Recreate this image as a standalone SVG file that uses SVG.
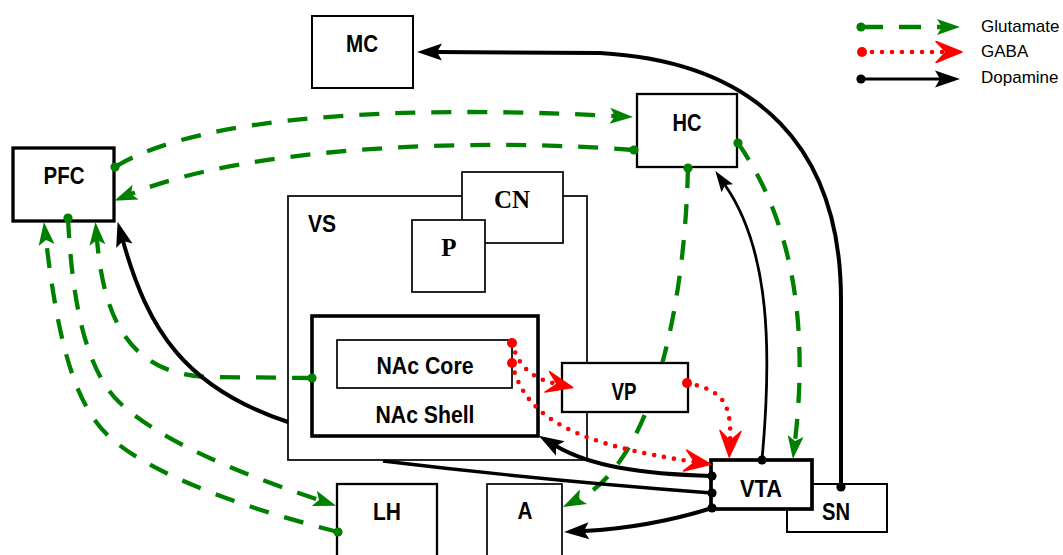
<svg xmlns="http://www.w3.org/2000/svg" width="1063" height="555" viewBox="0 0 1063 555">
<style>
.box{fill:#fff;stroke:#000}
.lbl{font-family:"Liberation Sans Narrow","Liberation Sans",Arial,sans-serif;font-weight:bold;font-size:24px;text-anchor:middle;fill:#000}
.ser{font-family:"Liberation Serif","Times New Roman",serif;font-weight:bold;font-size:25px;text-anchor:middle;fill:#000}
.leg{font-family:"Liberation Sans",Arial,sans-serif;font-size:17px;fill:#000}
.glu{fill:none;stroke:#008000;stroke-width:4.3;stroke-dasharray:20 16;marker-start:url(#dotG);marker-end:url(#arrG)}
.gaba{fill:none;stroke:#ff0000;stroke-width:4.6;stroke-linecap:round;stroke-dasharray:0 10;marker-start:url(#dotR);marker-end:url(#arrR)}
.da{fill:none;stroke:#000;stroke-width:4;marker-start:url(#dotK);marker-end:url(#arrK)}
</style>
<defs>
<marker id="arrG" markerUnits="userSpaceOnUse" orient="auto" refX="0" refY="0" markerWidth="40" markerHeight="40" overflow="visible"><path d="M -5 -8 L 18 0 L -5 8 L 0 0 Z" fill="#008000"/></marker>
<marker id="arrR" markerUnits="userSpaceOnUse" orient="auto" refX="0" refY="0" markerWidth="40" markerHeight="40" overflow="visible"><path d="M -10 -10.5 L 16 0 L -10 10.5 L 0 0 Z" fill="#ff0000" stroke="#ff0000" stroke-width="1.5" stroke-linejoin="round"/></marker>
<marker id="arrK" markerUnits="userSpaceOnUse" orient="auto" refX="0" refY="0" markerWidth="40" markerHeight="40" overflow="visible"><path d="M -5 -8.5 L 20 0 L -5 8.5 L 0 0 Z" fill="#000"/></marker>
<marker id="arrKs" markerUnits="userSpaceOnUse" orient="auto" refX="0" refY="0" markerWidth="40" markerHeight="40" overflow="visible"><path d="M -4 -7 L 17 0 L -4 7 L 0 0 Z" fill="#000"/></marker>
<marker id="dotG" markerUnits="userSpaceOnUse" refX="0" refY="0" markerWidth="20" markerHeight="20" overflow="visible"><circle r="4.6" fill="#008000"/></marker>
<marker id="dotR" markerUnits="userSpaceOnUse" refX="0" refY="0" markerWidth="20" markerHeight="20" overflow="visible"><circle r="5" fill="#ff0000"/></marker>
<marker id="dotK" markerUnits="userSpaceOnUse" refX="0" refY="0" markerWidth="20" markerHeight="20" overflow="visible"><circle r="4.6" fill="#000"/></marker>
<mask id="vpHole" maskUnits="userSpaceOnUse" x="0" y="0" width="1063" height="555">
<rect x="0" y="0" width="1063" height="555" fill="#fff"/>
<rect x="561" y="362" width="128" height="51" fill="#000"/>
</mask>
</defs>
<rect width="1063" height="555" fill="#fff"/>

<g id="VS"><rect class="box" x="288" y="196" width="299" height="264" stroke-width="1.7"/><text class="lbl" x="322" y="232" textLength="28" lengthAdjust="spacingAndGlyphs">VS</text></g>
<g id="CN"><rect class="box" x="462" y="172" width="101" height="71" stroke-width="1.7"/><text class="ser" x="512" y="208">CN</text></g>
<g id="P"><rect class="box" x="412" y="220" width="73" height="72" stroke-width="1.7"/><text class="ser" x="449" y="256">P</text></g>
<g id="NAcShell"><rect class="box" x="312" y="316" width="226" height="120" stroke-width="3.6"/><text class="lbl" x="425" y="423" textLength="99" lengthAdjust="spacingAndGlyphs">NAc Shell</text></g>
<g id="NAcCore"><rect class="box" x="337" y="340" width="175" height="48" stroke-width="1.7"/><text class="lbl" x="425" y="374" textLength="97" lengthAdjust="spacingAndGlyphs">NAc Core</text></g>
<g id="VP"><rect class="box" x="562" y="363" width="126" height="49" stroke-width="2.3"/><text class="lbl" x="624" y="400" textLength="25" lengthAdjust="spacingAndGlyphs">VP</text></g>
<g id="SN"><rect class="box" x="787" y="484" width="100" height="48" stroke-width="2"/><text class="lbl" x="836" y="520" textLength="28" lengthAdjust="spacingAndGlyphs">SN</text></g>
<g id="VTA"><rect class="box" x="711" y="460" width="101" height="49" stroke-width="3.7"/><text class="lbl" x="761" y="497" textLength="42" lengthAdjust="spacingAndGlyphs">VTA</text></g>
<g id="MC"><rect class="box" x="312" y="16" width="101" height="72" stroke-width="2"/><text class="lbl" x="362" y="52" textLength="32" lengthAdjust="spacingAndGlyphs">MC</text></g>
<g id="HC"><rect class="box" x="637" y="94" width="100" height="73" stroke-width="2.3"/><text class="lbl" x="687" y="131" textLength="29" lengthAdjust="spacingAndGlyphs">HC</text></g>
<g id="PFC"><rect class="box" x="13" y="148" width="101" height="73" stroke-width="3.3"/><text class="lbl" x="64" y="184" textLength="41" lengthAdjust="spacingAndGlyphs">PFC</text></g>
<g id="LH"><rect class="box" x="337" y="484" width="100" height="90" stroke-width="2.3"/><text class="lbl" x="387" y="520" textLength="28" lengthAdjust="spacingAndGlyphs">LH</text></g>
<g id="A"><rect class="box" x="487" y="484" width="75" height="90" stroke-width="1.7"/><text class="lbl" x="525" y="519" textLength="15" lengthAdjust="spacingAndGlyphs">A</text></g>

<g id="connectors">
<path class="glu" d="M 115 167 C 200 115, 400 105, 615 116"/>
<path class="glu" d="M 634 150 C 480 138, 250 145, 131 194"/>
<path class="glu" mask="url(#vpHole)" d="M 688 168 C 684 330, 645 466, 579 499"/>
<path class="glu" d="M 738 143 C 795 225, 808 330, 795 441"/>
<path class="glu" d="M 312 378 L 210 377 C 130 375, 104 320, 97 240"/>
<path class="glu" d="M 68 218 C 72 300, 85 370, 120 403 C 160 440, 230 470, 319 500"/>
<path class="glu" d="M 338 532 C 260 512, 160 480, 113 440 C 80 412, 60 360, 46 240"/>

<path class="da" style="stroke-width:2.8;marker-end:url(#arrKs)" d="M 762 460 C 772 350, 770 250, 725 185"/>
<path class="da" d="M 841 487 L 841 300 C 841 150, 760 62, 600 53 L 437 52"/>
<path class="da" d="M 712 476 C 640 474, 590 466, 556 446"/>
<path class="da" style="stroke-width:3.4;marker-end:none" d="M 712 493 Q 540 480, 383 461"/>
<path class="da" d="M 712 508 C 680 518, 640 528, 584 531"/>
<path class="da" style="marker-start:none" d="M 288 422 C 185 388, 148 330, 123 241"/>

<path class="gaba" d="M 512 343 C 518 365, 530 378, 557 384"/>
<path class="gaba" d="M 512 363 C 525 420, 580 445, 695 462"/>
<path class="gaba" d="M 687 383 C 720 390, 732 400, 730 441"/>
</g>

<g id="legend">
<path class="glu" style="stroke-dasharray:22 16" d="M 861 27 L 942 27"/>
<path class="gaba" d="M 862 52 L 946 52"/>
<path class="da" style="stroke-width:3.2" d="M 861 79 L 940 79"/>
<text class="leg" x="981" y="32">Glutamate</text>
<text class="leg" x="981" y="57">GABA</text>
<text class="leg" x="981" y="83">Dopamine</text>
</g>
</svg>
